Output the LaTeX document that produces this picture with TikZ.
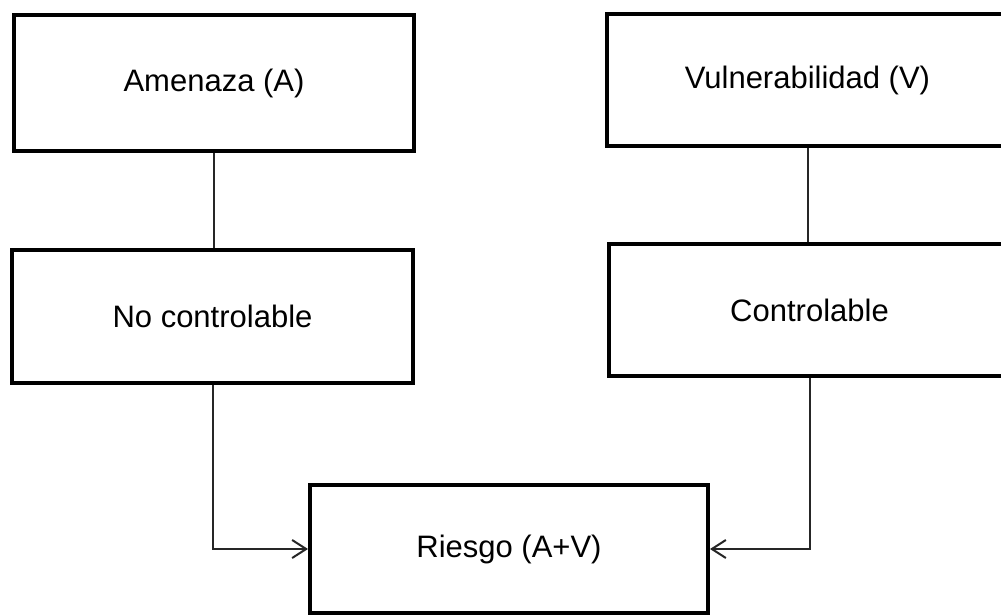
\documentclass[tikz,border=0pt]{standalone}
\usepackage{fontspec}
\setmainfont{Liberation Sans}
\usetikzlibrary{arrows.meta}
\begin{document}
\begin{tikzpicture}[x=1pt,y=-1pt,
  box/.style={draw=black,line width=4pt,fill=white,inner sep=0pt,
    font=\fontsize{31}{36}\selectfont},
  conn/.style={draw=black!85,line width=2pt},
  arr/.style={conn,-{Straight Barb[length=14pt,width=18pt,line width=2pt]}}]
\useasboundingbox[fill=white] (0,0) rectangle (1001,615);
\node[box,minimum width=400pt,minimum height=136pt] (A) at (214,83) {Amenaza (A)};
\node[box,minimum width=401pt,minimum height=133pt] (NC) at (212.5,316.5) {No controlable};
\node[box,minimum width=401pt,minimum height=132pt] (V) at (807.5,80) {Vulnerabilidad (V)};
\node[box,minimum width=401pt,minimum height=132pt] (C) at (809.5,310) {Controlable};
\node[box,minimum width=398pt,minimum height=128pt] (R) at (509,549) {Riesgo (A+V)};
\draw[conn] (A.south) -- (A.south |- NC.north);
\draw[conn] (V.south) -- (V.south |- C.north);
\draw[arr] (NC.south) |- (R.west);
\draw[arr] (C.south) |- (R.east);
\end{tikzpicture}
\end{document}
